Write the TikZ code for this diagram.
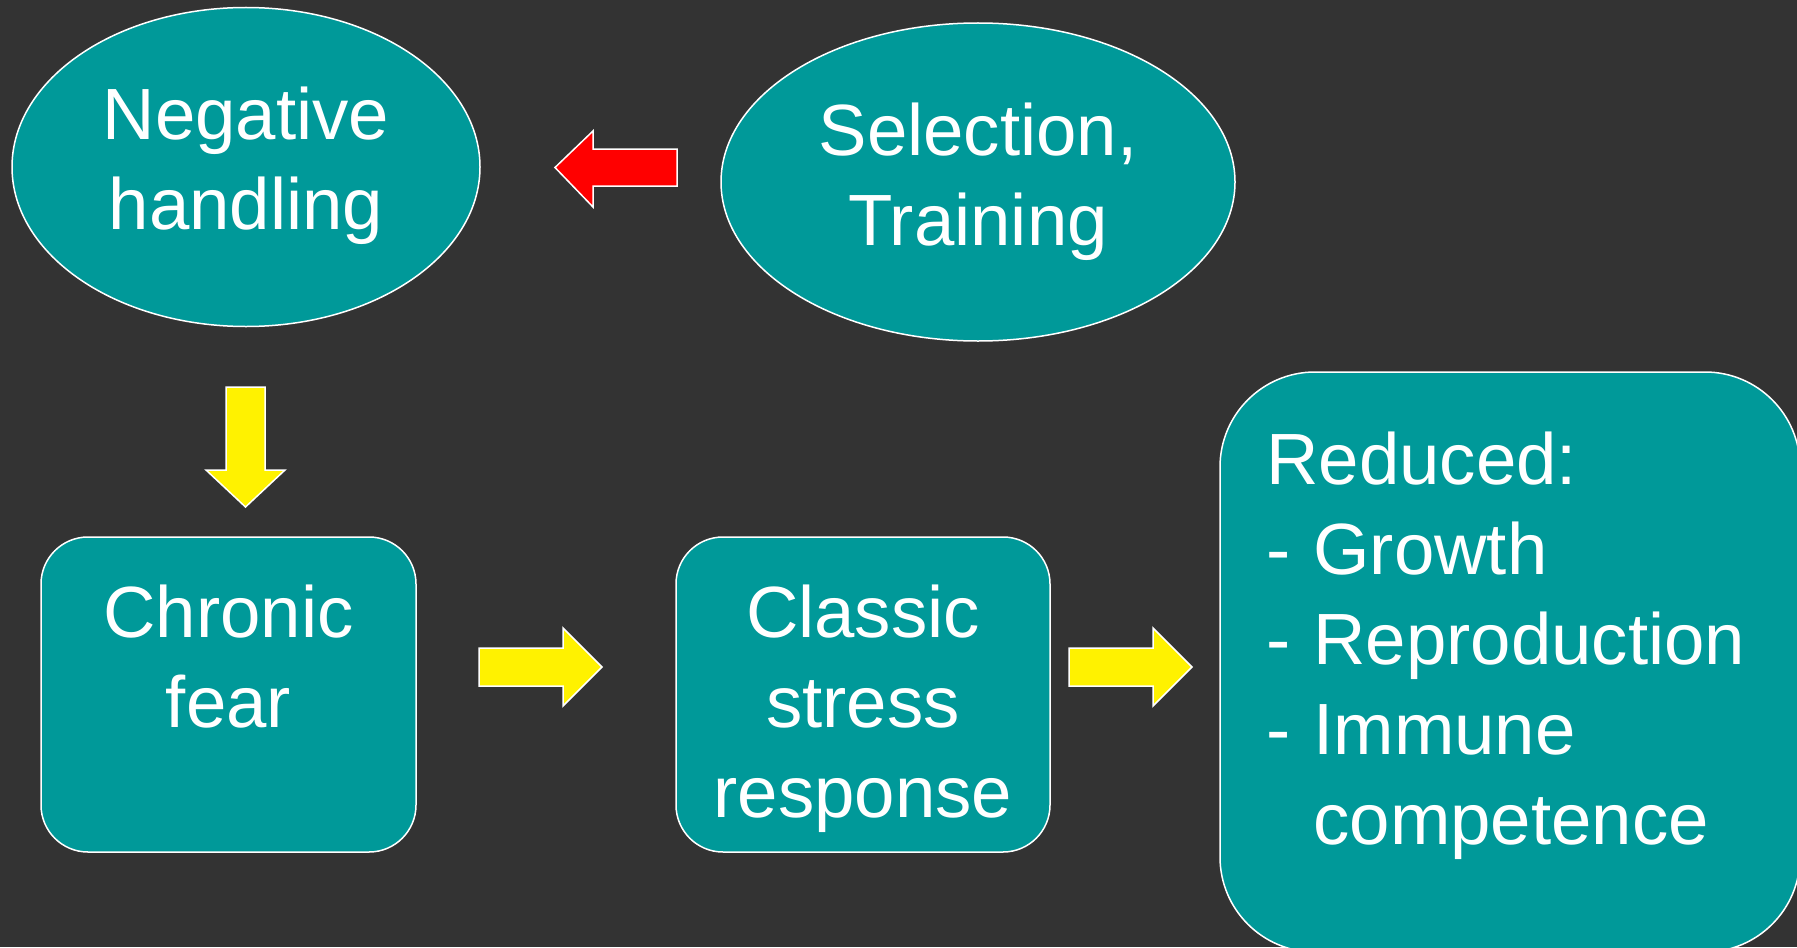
\documentclass[tikz,border=0pt]{standalone}
\usepackage{fontspec}
\setmainfont{Liberation Sans}
\usetikzlibrary{shapes.geometric}

\definecolor{bgdark}{HTML}{333333}
\definecolor{teal}{HTML}{009999}

\tikzset{
  oval/.style={ellipse, fill=teal, draw=white, line width=0.75pt, inner sep=0pt, outer sep=0pt},
  roundbox/.style={rectangle, rounded corners=23.5pt, fill=teal, draw=white, line width=0.75pt, inner sep=0pt, outer sep=0pt},
  txt/.style={text=white, inner sep=0pt, font=\fontsize{36.3}{45}\selectfont},
  yarrow/.style={fill=yellow, draw=white, line width=0.75pt, line join=miter},
  rarrow/.style={fill=red, draw=white, line width=0.75pt, line join=miter}
}

\begin{document}
\begin{tikzpicture}[x=0.5pt, y=-0.5pt]
    \fill[bgdark] (0,0) rectangle (1797,947);
    \useasboundingbox (0,0) rectangle (1797,947);
    \clip (0,0) rectangle (1797,947);

    %ovals
    \node[oval, minimum width=234pt, minimum height=159.5pt] (handling) at (246,167) {};
    \node[txt, align=center, anchor=base] (handlingtxt) at (246,229) {Negative\\handling};

    \node[oval, minimum width=257pt, minimum height=159pt] (selection) at (978,182) {};
    \node[txt, align=center, anchor=base] (selectiontxt) at (978,245) {Selection,\\Training};

    %boxes
    \node[roundbox, minimum width=187.5pt, minimum height=157.5pt] (fear) at (228.5,694.5) {};
    \node[txt, align=center, anchor=base] (feartxt) at (228.5,727) {Chronic\\fear};

    \node[roundbox, minimum width=187pt, minimum height=157.5pt] (stress) at (863,694.5) {};
    \node[txt, align=center, anchor=base] (stresstxt) at (863,817) {Classic\\stress\\response};

    \node[roundbox, rounded corners=47.5pt, minimum width=290pt, minimum height=290pt] (reduced) at (1510,662) {};
    \node[txt, align=left, anchor=base west] (reducedtxt) at (1266,844)
        {Reduced:\\\makebox[23.5pt][l]{-}Growth\\\makebox[23.5pt][l]{-}Reproduction\\\makebox[23.5pt][l]{-}Immune\\\hspace*{23.5pt}competence};

    %block arrows
    \draw[rarrow] (677,149) -- (593,149) -- (593,131) -- (555,167.5) -- (593,207) -- (593,186) -- (677,186) -- cycle;
    \draw[yarrow] (226,387) -- (265,387) -- (265,470) -- (285,470) -- (245.5,507) -- (206,470) -- (226,470) -- cycle;
    \draw[yarrow] (479,648) -- (563,648) -- (563,628) -- (602,667) -- (563,706) -- (563,686) -- (479,686) -- cycle;
    \draw[yarrow] (1069,648) -- (1153,648) -- (1153,628) -- (1192,667) -- (1153,706) -- (1153,686) -- (1069,686) -- cycle;
\end{tikzpicture}
\end{document}
